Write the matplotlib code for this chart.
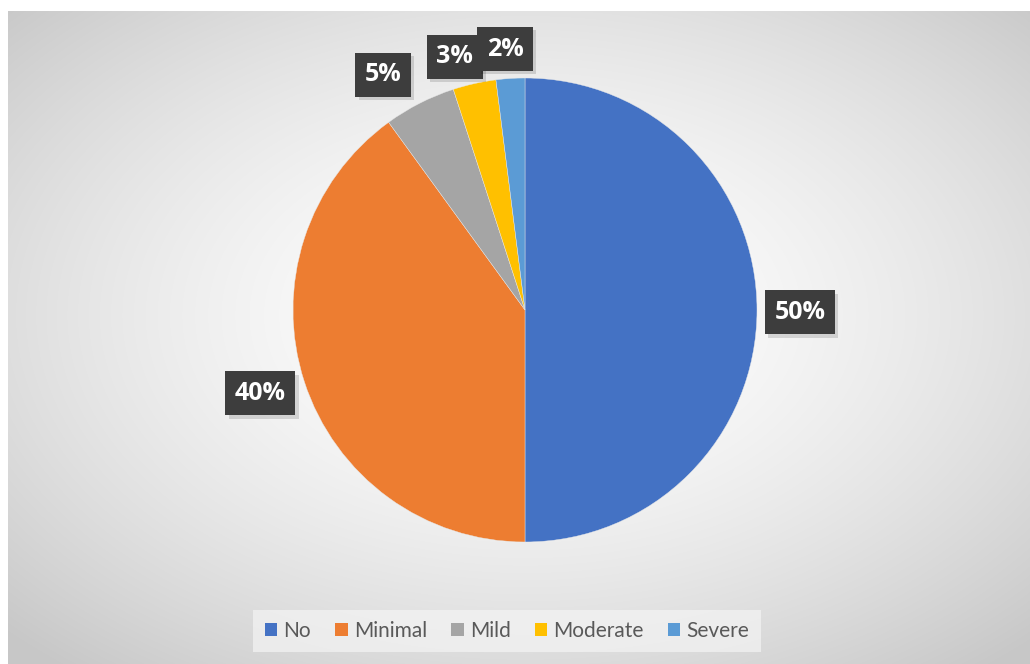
import numpy as np
import matplotlib
matplotlib.use("Agg")
import matplotlib.pyplot as plt
import matplotlib.patheffects as pe

categories = ["No", "Minimal", "Mild", "Moderate", "Severe"]
values = [50, 40, 5, 3, 2]
labels = ["50%", "40%", "5%", "3%", "2%"]
colors = ["#4472C4", "#ED7D31", "#A5A5A5", "#FFC000", "#5B9BD5"]
# label positions in pie data units (layout)
label_pos = [(1.185, -0.01), (-1.142, -0.358), (-0.612, 1.013), (-0.302, 1.091), (-0.086, 1.125)]

W, H = 1030, 664
fig = plt.figure(figsize=(W / 100, H / 100), dpi=100)
fig.patch.set_facecolor("white")

# background gradient axes (chart area)
x0, y0 = 8, 11
bg = fig.add_axes([x0 / W, 0, (W - x0) / W, (H - y0) / H])
bw, bh = W - x0, H - y0
yy, xx = np.mgrid[0:bh, 0:bw]
cx, cy = 525 - x0, 315 - y0
dx = (xx - cx) / (bw / 2)
dy = (yy - cy) / (bh / 2)
d = np.sqrt(dx ** 2 + dy ** 2) / np.sqrt(2)
v = 255 - 56 * np.clip(d, 0, 1) ** 1.6
img = np.dstack([v, v, v]) / 255.0
bg.imshow(img, aspect="auto", interpolation="bilinear")
bg.set_axis_off()

# pie axes
cxp, cyp, r = 525, 310, 232
ax = fig.add_axes([(cxp - r) / W, (H - cyp - r) / H, 2 * r / W, 2 * r / H])
wedges, _ = ax.pie(values, colors=colors, startangle=90, counterclock=False,
                   radius=1.0, wedgeprops=dict(edgecolor="#e8e8e8", linewidth=0.3))
ax.set_xlim(-1, 1)
ax.set_ylim(-1, 1)
ax.set_aspect("equal")
ax.axis("off")

for lab, (lx, ly) in zip(labels, label_pos):
    t = ax.text(lx, ly, lab, ha="center", va="center", color="white",
                fontsize=18, fontweight="bold", family="Open Sans",
                bbox=dict(boxstyle="square,pad=0.38", facecolor="#3d3d3d",
                          edgecolor="none", linewidth=0),
                zorder=5, clip_on=False)
    t.get_bbox_patch().set_path_effects([
        pe.SimplePatchShadow(offset=(2.5, -2.5), shadow_rgbFace="#000000", alpha=0.13),
        pe.Normal()])

# legend
handles = [plt.Rectangle((0, 0), 1, 1, facecolor=c, edgecolor="none") for c in colors]
leg = fig.legend(handles, categories, loc="center", bbox_to_anchor=(507 / W, (H - 631) / H),
                 ncol=5, frameon=True,
                 prop={"family": "Lato", "size": 15},
                 handlelength=0.6, handleheight=0.6, handletextpad=0.3,
                 columnspacing=1.15, borderpad=0.55, fancybox=False)
leg.get_frame().set_facecolor("#f4f4f4")
leg.get_frame().set_alpha(0.7)
leg.get_frame().set_edgecolor("none")
for t in leg.get_texts():
    t.set_color("#595959")

fig.savefig("out.png", dpi=100, facecolor="white")
